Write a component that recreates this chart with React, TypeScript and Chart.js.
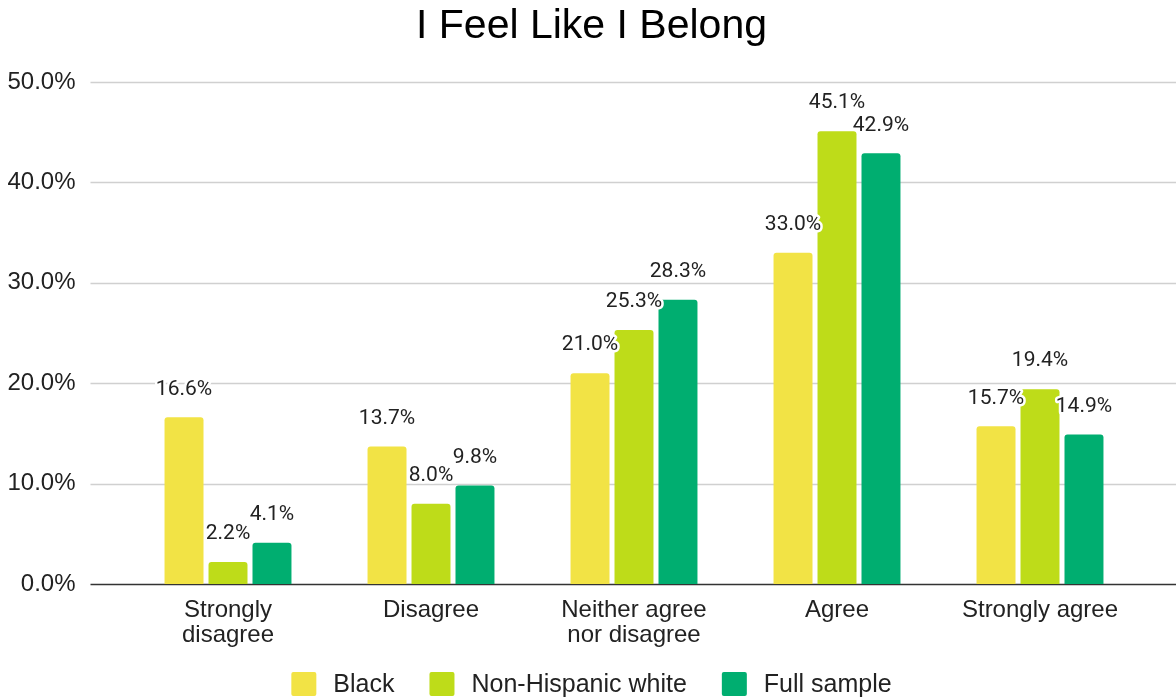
import React, { useEffect, useRef } from "react";
import { Chart, registerables } from "chart.js";

Chart.register(...registerables);

const categories: (string | string[])[] = [
  ["Strongly", "disagree"],
  "Disagree",
  ["Neither agree", "nor disagree"],
  "Agree",
  "Strongly agree",
];

const seriesNames = ["Black", "Non-Hispanic white", "Full sample"];
const blackValues = [16.6, 13.7, 21.0, 33.0, 15.7];
const whiteValues = [2.2, 8.0, 25.3, 45.1, 19.4];
const fullValues = [4.1, 9.8, 28.3, 42.9, 14.9];
const seriesColors = ["#F2E345", "#BEDC19", "#00AE70"];

const yTicks = [0, 10, 20, 30, 40, 50];

const SANS = "'Liberation Sans', Arial, Helvetica, sans-serif";

// Horizontal gridlines that run a bit past the plot on both sides
const gridPlugin = {
  id: "wideGrid",
  beforeDatasetsDraw(chart: any) {
    const { ctx, chartArea, scales } = chart;
    const y = scales.y;
    const left = chartArea.left - 36;
    const right = chart.width;
    ctx.save();
    yTicks.forEach((v) => {
      const py = Math.round(y.getPixelForValue(v)) + 0.5;
      ctx.beginPath();
      ctx.strokeStyle = v === 0 ? "#333333" : "#d0d0d0";
      ctx.lineWidth = 1.6;
      ctx.moveTo(left, py);
      ctx.lineTo(right, py);
      ctx.stroke();
    });
    ctx.restore();
  },
};

// Value labels above each bar, with a white halo
const valueLabelPlugin = {
  id: "valueLabels",
  afterDatasetsDraw(chart: any) {
    const { ctx } = chart;
    ctx.save();
    ctx.font = "21px Roboto, 'Liberation Sans', Arial, sans-serif";
    ctx.textAlign = "center";
    ctx.textBaseline = "middle";
    ctx.lineJoin = "round";
    chart.data.datasets.forEach((ds: any, di: number) => {
      const meta = chart.getDatasetMeta(di);
      meta.data.forEach((el: any, i: number) => {
        const text = Number(ds.data[i]).toFixed(1) + "%";
        const x = el.x;
        const y = el.y - 28;
        ctx.strokeStyle = "#ffffff";
        ctx.lineWidth = 5;
        ctx.strokeText(text, x, y);
        ctx.fillStyle = "#222222";
        ctx.fillText(text, x, y);
      });
    });
    ctx.restore();
  },
};

// Legend row along the bottom edge: swatch, gap, series name
const bottomLegendPlugin = {
  id: "bottomLegend",
  afterDraw(chart: any) {
    const { ctx } = chart;
    const boxW = 25;
    const boxH = 24;
    const gap = 17;
    const spacing = 35;
    const cy = chart.height - 14;
    ctx.save();
    ctx.font = `25px ${SANS}`;
    ctx.textBaseline = "middle";
    ctx.textAlign = "left";
    const items = chart.data.datasets.map((ds: any) => ({
      label: ds.label as string,
      color: ds.backgroundColor as string,
      width: boxW + gap + ctx.measureText(ds.label).width,
    }));
    const total =
      items.reduce((s: number, it: any) => s + it.width, 0) +
      spacing * (items.length - 1);
    let x = (7 + chart.width) / 2 - total / 2;
    items.forEach((it: any) => {
      ctx.fillStyle = it.color;
      ctx.beginPath();
      (ctx as any).roundRect(x, cy - boxH / 2, boxW, boxH, 2);
      ctx.fill();
      ctx.fillStyle = "#222222";
      ctx.fillText(it.label, x + boxW + gap, cy + 1);
      x += it.width + spacing;
    });
    ctx.restore();
  },
};

export default function App() {
  const canvasRef = useRef<HTMLCanvasElement | null>(null);

  useEffect(() => {
    if (!canvasRef.current) return;
    const values = [blackValues, whiteValues, fullValues];
    const chart = new Chart(canvasRef.current, {
      type: "bar",
      data: {
        labels: categories as any,
        datasets: seriesNames.map((name, i) => ({
          label: name,
          data: values[i],
          backgroundColor: seriesColors[i],
          borderWidth: 0,
          borderRadius: 3,
          categoryPercentage: 0.65,
          barPercentage: 0.886,
        })),
      },
      options: {
        animation: false,
        responsive: true,
        maintainAspectRatio: false,
        layout: { padding: { left: 7, right: 0, top: 0, bottom: 0 } },
        plugins: {
          title: {
            display: true,
            text: "I Feel Like I Belong",
            color: "#000000",
            font: { family: SANS, size: 41, weight: "normal", lineHeight: 1.2 },
            padding: { top: 2, bottom: 30.8 },
          },
          legend: { display: false },
          tooltip: { enabled: false },
        },
        scales: {
          x: {
            grid: { display: false, drawTicks: false },
            border: { display: false },
            ticks: {
              color: "#222222",
              font: { family: SANS, size: 24, lineHeight: 1.04 },
              padding: 14,
              maxRotation: 0,
              autoSkip: false,
            },
            afterFit(scale: any) {
              scale.height = 114;
            },
          },
          y: {
            min: 0,
            max: 50,
            grid: { display: false, drawTicks: false },
            border: { display: false },
            ticks: {
              stepSize: 10,
              color: "#222222",
              font: { family: SANS, size: 24 },
              padding: 51,
              callback: (v: any) => Number(v).toFixed(1) + "%",
            },
            afterFit(scale: any) {
              scale.width = 119.5;
            },
          },
          // empty strip on the right side of the plot
          yRight: {
            type: "linear",
            position: "right",
            display: true,
            grid: { display: false, drawTicks: false },
            border: { display: false },
            ticks: { display: false },
            afterFit(scale: any) {
              scale.width = 34.5;
            },
          },
        },
      },
      plugins: [gridPlugin, valueLabelPlugin, bottomLegendPlugin],
    });
    return () => chart.destroy();
  }, []);

  return (
    <div
      style={{
        position: "absolute",
        left: 0,
        top: 0,
        width: 1176,
        height: 698,
        background: "#ffffff",
      }}
    >
      <canvas ref={canvasRef} />
    </div>
  );
}
